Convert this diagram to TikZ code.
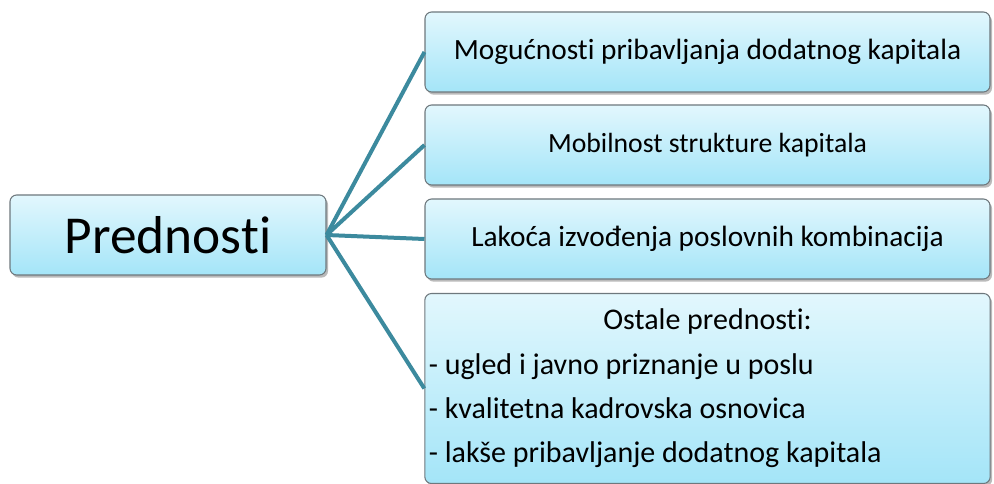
\documentclass[tikz,border=0pt]{standalone}
\usepackage{fontspec}
\setmainfont[Ligatures=CommonOff]{Carlito}
\usetikzlibrary{shadows}

\definecolor{linija}{RGB}{60,138,158}
\definecolor{gore}{RGB}{226,247,253}
\definecolor{dole}{RGB}{164,229,248}
\definecolor{okvir}{RGB}{110,120,125}

\tikzset{
  kutija/.style={draw=okvir,line width=0.8pt,rounded corners=5pt,
    top color=gore,bottom color=dole,
    drop shadow={shadow xshift=1.5pt,shadow yshift=-2pt,fill=black!45,opacity=0.6},
    minimum width=423.75pt,minimum height=60pt,inner sep=3pt},
  veza/.style={linija,line width=3pt}
}

\begin{document}
\begin{tikzpicture}[x=0.75pt,y=0.75pt]
\useasboundingbox (0,0) rectangle (994,-484);
\node [kutija,minimum width=237pt,font=\fontsize{40}{48}\selectfont] (pred) at (168,-235) {Prednosti};
\node [kutija,font=\fontsize{22}{26}\selectfont] (k1) at (707.5,-52) {Mogućnosti pribavljanja dodatnog kapitala};
\node [kutija,font=\fontsize{20.8}{25}\selectfont] (k2) at (707.5,-145) {Mobilnost strukture kapitala};
\node [kutija,font=\fontsize{22}{26}\selectfont] (k3) at (707.5,-239) {Lakoća izvođenja poslovnih kombinacija};
\node [kutija,minimum height=142.5pt,text width=418pt,align=flush left,
  font=\fontsize{22.5}{33.3}\selectfont] (k4) at (707.5,-388.5)
  {\makebox[418pt]{Ostale prednosti:}\\
   - ugled i javno priznanje u poslu\\
   - kvalitetna kadrovska osnovica\\
   - lakše pribavljanje dodatnog kapitala};
\draw [veza] (pred.east)--(k1.west);
\draw [veza] (pred.east)--(k2.west);
\draw [veza] (pred.east)--(k3.west);
\draw [veza] (pred.east)--(k4.west);
\end{tikzpicture}
\end{document}
